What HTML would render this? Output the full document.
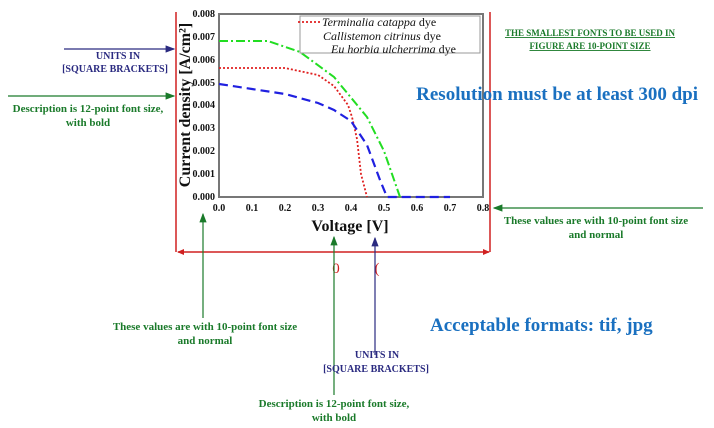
<!DOCTYPE html><html><head><style>body{margin:0;background:#fff}svg{display:block}</style></head><body>
<svg width="714" height="428" xmlns="http://www.w3.org/2000/svg" font-family="Liberation Serif, serif">
<defs>
<marker id="ag" markerWidth="8" markerHeight="8" refX="7" refY="4" orient="auto"><path d="M0,1 L8,4 L0,7 z" fill="#1a7a2a"/></marker>
<marker id="ab" markerWidth="8" markerHeight="8" refX="7" refY="4" orient="auto"><path d="M0,1 L8,4 L0,7 z" fill="#2a2a80"/></marker>
<marker id="ar" markerWidth="7" markerHeight="6" refX="6" refY="3" orient="auto" markerUnits="userSpaceOnUse"><path d="M0,0 L7,3 L0,6 z" fill="#d02020"/></marker>
</defs>
<g stroke="#d02020" stroke-width="1.5" fill="none">
<line x1="176" y1="12" x2="176" y2="252"/>
<line x1="490" y1="12" x2="490" y2="252"/>
<line x1="200" y1="252" x2="466" y2="252"/>
<line x1="200" y1="252" x2="178" y2="252" marker-end="url(#ar)"/>
<line x1="466" y1="252" x2="489" y2="252" marker-end="url(#ar)"/>
</g>
<text x="336" y="273" fill="#d02020" font-size="15" text-anchor="middle">0</text>
<text x="377" y="273" fill="#d02020" font-size="15" text-anchor="middle">(</text>
<rect x="219" y="14" width="264" height="183" fill="none" stroke="#777" stroke-width="2"/>
<g font-size="10" fill="#111" font-weight="bold">
<g text-anchor="end">
<text x="215" y="200">0.000</text><text x="215" y="177">0.001</text><text x="215" y="154">0.002</text><text x="215" y="131">0.003</text><text x="215" y="108">0.004</text><text x="215" y="86">0.005</text><text x="215" y="63">0.006</text><text x="215" y="40">0.007</text><text x="215" y="17">0.008</text>
</g>
<g text-anchor="middle">
<text x="219" y="211">0.0</text><text x="252" y="211">0.1</text><text x="285" y="211">0.2</text><text x="318" y="211">0.3</text><text x="351" y="211">0.4</text><text x="384" y="211">0.5</text><text x="417" y="211">0.6</text><text x="450" y="211">0.7</text><text x="483" y="211">0.8</text>
</g></g>
<text x="350" y="231" font-size="16" font-weight="bold" text-anchor="middle" fill="#111">Voltage [V]</text>
<text transform="translate(190,105) rotate(-90)" font-size="16" font-weight="bold" text-anchor="middle" fill="#111">Current density [A/cm²]</text>
<path d="M219,41 L268,41 L300,52 L334,77 L367,117 L384,151 L400,197" fill="none" stroke="#22dd22" stroke-width="2" stroke-dasharray="9,3,2,3"/>
<path d="M219,68 L285,68 L318,75 L334,86 L348,105 L352,117 L357,139 L361,174 L367,197" fill="none" stroke="#e02020" stroke-width="1.8" stroke-dasharray="2,2"/>
<path d="M219,84 L252,89 L285,94 L318,103 L334,110 L351,121 L367,145 L380,180 L387,197 L450,197" fill="none" stroke="#2020e0" stroke-width="2.2" stroke-dasharray="9,5"/>
<rect x="300" y="16" width="180" height="37" fill="#fff" stroke="#999"/>
<line x1="298" y1="22" x2="320" y2="22" stroke="#e02020" stroke-width="1.8" stroke-dasharray="2,2"/>
<g font-size="12" fill="#111">
<text x="322" y="26"><tspan font-style="italic">Terminalia catappa</tspan> dye</text>
<text x="323" y="40"><tspan font-style="italic">Callistemon citrinus</tspan> dye</text>
<text x="331" y="53"><tspan font-style="italic">Eu horbia  ulcherrima</tspan> dye</text>
</g>
<line x1="64" y1="49" x2="174" y2="49" stroke="#2a2a80" stroke-width="1.2" marker-end="url(#ab)"/>
<text x="118" y="59" font-size="10" font-weight="bold" fill="#2a2a80" text-anchor="middle">UNITS IN</text>
<text x="115" y="72" font-size="10" font-weight="bold" fill="#2a2a80" text-anchor="middle">[SQUARE BRACKETS]</text>
<line x1="8" y1="96" x2="174" y2="96" stroke="#1a7a2a" stroke-width="1.2" marker-end="url(#ag)"/>
<text x="88" y="112" font-size="11" font-weight="bold" fill="#1a7a2a" text-anchor="middle">Description is 12-point font size,</text>
<text x="88" y="126" font-size="11" font-weight="bold" fill="#1a7a2a" text-anchor="middle">with bold</text>
<text x="590" y="36" font-size="9" font-weight="bold" fill="#1a7a2a" text-anchor="middle" text-decoration="underline">THE SMALLEST FONTS TO BE USED IN</text>
<text x="590" y="49" font-size="9" font-weight="bold" fill="#1a7a2a" text-anchor="middle" text-decoration="underline">FIGURE ARE 10-POINT SIZE</text>
<text x="698" y="100" font-size="19" font-weight="bold" fill="#1a70c0" text-anchor="end">Resolution must be at least 300 dpi</text>
<line x1="703" y1="208" x2="494" y2="208" stroke="#1a7a2a" stroke-width="1.2" marker-end="url(#ag)"/>
<text x="596" y="224" font-size="11" font-weight="bold" fill="#1a7a2a" text-anchor="middle">These values are with 10-point font size</text>
<text x="596" y="238" font-size="11" font-weight="bold" fill="#1a7a2a" text-anchor="middle">and normal</text>
<line x1="203" y1="318" x2="203" y2="214" stroke="#1a7a2a" stroke-width="1.2" marker-end="url(#ag)"/>
<text x="205" y="330" font-size="11" font-weight="bold" fill="#1a7a2a" text-anchor="middle">These values are with 10-point font size</text>
<text x="205" y="344" font-size="11" font-weight="bold" fill="#1a7a2a" text-anchor="middle">and normal</text>
<line x1="334" y1="395" x2="334" y2="237" stroke="#1a7a2a" stroke-width="1.2" marker-end="url(#ag)"/>
<line x1="375" y1="355" x2="375" y2="238" stroke="#2a2a80" stroke-width="1.2" marker-end="url(#ab)"/>
<text x="377" y="358" font-size="10" font-weight="bold" fill="#2a2a80" text-anchor="middle">UNITS IN</text>
<text x="376" y="372" font-size="10" font-weight="bold" fill="#2a2a80" text-anchor="middle">[SQUARE BRACKETS]</text>
<text x="334" y="407" font-size="11" font-weight="bold" fill="#1a7a2a" text-anchor="middle">Description is 12-point font size,</text>
<text x="334" y="421" font-size="11" font-weight="bold" fill="#1a7a2a" text-anchor="middle">with bold</text>
<text x="430" y="331" font-size="19" font-weight="bold" fill="#1a70c0">Acceptable formats: tif, jpg</text>
</svg>
</body></html>
